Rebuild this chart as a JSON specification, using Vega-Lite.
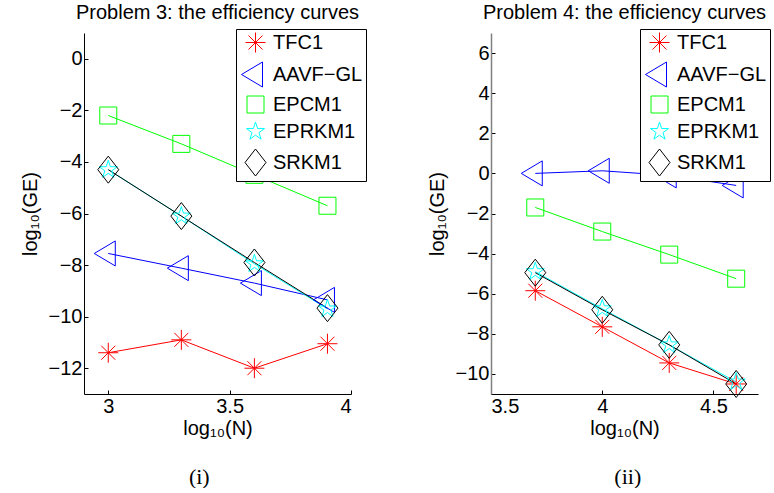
{
  "$schema": "https://vega.github.io/schema/vega-lite/v6.json",
  "background": "white",
  "padding": {"left": 20, "top": 3, "right": 0, "bottom": 0},
  "spacing": 60,
  "resolve": {"scale": {"stroke": "independent", "shape": "independent"}, "legend": {"stroke": "independent", "shape": "independent"}},
  "config": {
    "view": {"stroke": null},
    "font": "Liberation Sans",
    "title": {"font": "Liberation Sans", "fontSize": 20, "fontWeight": "normal", "color": "black", "anchor": "middle", "offset": 10},
    "axis": {
      "grid": false, "domainColor": "black", "domainWidth": 1, "tickColor": "black", "tickSize": -4, "tickWidth": 1,
      "labelFont": "Liberation Sans", "labelFontSize": 20, "labelColor": "black", "labelPadding": 6,
      "titleFont": "Liberation Sans", "titleFontSize": 20, "titleFontWeight": "normal", "titleColor": "black"
    },
    "axisX": {"titlePadding": 2},
    "axisY": {"titlePadding": 8},
    "legend": {
      "orient": "none", "title": null, "strokeColor": "black", "fillColor": "white", "cornerRadius": 0,
      "padding": 3, "symbolOffset": 6, "symbolSize": 400, "symbolStrokeWidth": 1, "labelOffset": 7,
      "labelFont": "Liberation Sans", "labelFontSize": 20, "labelColor": "black", "rowPadding": 5, "labelLimit": 200
    }
  },
  "datasets": {
    "p3": [
      {"method": "TFC1", "x": 3.0, "y": -11.4},
      {"method": "TFC1", "x": 3.301, "y": -10.9},
      {"method": "TFC1", "x": 3.602, "y": -12.0},
      {"method": "TFC1", "x": 3.903, "y": -11.05},
      {"method": "AAVF−GL", "x": 3.0, "y": -7.55},
      {"method": "AAVF−GL", "x": 3.301, "y": -8.12},
      {"method": "AAVF−GL", "x": 3.602, "y": -8.7},
      {"method": "AAVF−GL", "x": 3.903, "y": -9.35},
      {"method": "EPCM1", "x": 3.0, "y": -2.2},
      {"method": "EPCM1", "x": 3.301, "y": -3.3},
      {"method": "EPCM1", "x": 3.602, "y": -4.5},
      {"method": "EPCM1", "x": 3.903, "y": -5.7},
      {"method": "EPRKM1", "x": 3.0, "y": -4.3},
      {"method": "EPRKM1", "x": 3.301, "y": -6.1},
      {"method": "EPRKM1", "x": 3.602, "y": -7.95},
      {"method": "EPRKM1", "x": 3.903, "y": -9.7},
      {"method": "SRKM1", "x": 3.0, "y": -4.3},
      {"method": "SRKM1", "x": 3.301, "y": -6.1},
      {"method": "SRKM1", "x": 3.602, "y": -7.9},
      {"method": "SRKM1", "x": 3.903, "y": -9.67}
    ],
    "p4": [
      {"method": "TFC1", "x": 3.699, "y": -5.85},
      {"method": "TFC1", "x": 4.0, "y": -7.65},
      {"method": "TFC1", "x": 4.301, "y": -9.45},
      {"method": "TFC1", "x": 4.602, "y": -10.5},
      {"method": "AAVF−GL", "x": 3.699, "y": 0.0},
      {"method": "AAVF−GL", "x": 4.0, "y": 0.13},
      {"method": "AAVF−GL", "x": 4.301, "y": -0.1},
      {"method": "AAVF−GL", "x": 4.602, "y": -0.6},
      {"method": "EPCM1", "x": 3.699, "y": -1.7},
      {"method": "EPCM1", "x": 4.0, "y": -2.9},
      {"method": "EPCM1", "x": 4.301, "y": -4.05},
      {"method": "EPCM1", "x": 4.602, "y": -5.25},
      {"method": "EPRKM1", "x": 3.699, "y": -4.9},
      {"method": "EPRKM1", "x": 4.0, "y": -6.75},
      {"method": "EPRKM1", "x": 4.301, "y": -8.55},
      {"method": "EPRKM1", "x": 4.602, "y": -10.4},
      {"method": "SRKM1", "x": 3.699, "y": -4.95},
      {"method": "SRKM1", "x": 4.0, "y": -6.8},
      {"method": "SRKM1", "x": 4.301, "y": -8.55},
      {"method": "SRKM1", "x": 4.602, "y": -10.5}
    ]
  },
  "hconcat": [
    {
      "title": {"text": "(i)", "orient": "bottom", "font": "Liberation Serif", "fontSize": 22, "offset": 29, "dx": 6},
      "vconcat": [
        {
          "title": "Problem 3: the efficiency curves",
          "width": 267, "height": 361,
          "data": {"name": "p3"},
          "layer": [
            {
              "mark": {"type": "line", "strokeWidth": 1},
              "encoding": {
                "x": {"field": "x", "type": "quantitative", "scale": {"domain": [2.9, 4], "nice": false, "zero": false}, "axis": {"values": [3, 3.5, 4], "format": "~g", "title": "log₁₀(N)"}},
                "y": {"field": "y", "type": "quantitative", "scale": {"domain": [-13, 1], "nice": false, "zero": false}, "axis": {"values": [-12, -10, -8, -6, -4, -2, 0], "title": "log₁₀(GE)"}},
                "stroke": {"field": "method", "type": "nominal", "title": null, "sort": ["TFC1", "AAVF−GL", "EPCM1", "EPRKM1", "SRKM1"], "scale": {"domain": ["TFC1", "AAVF−GL", "EPCM1", "EPRKM1", "SRKM1"], "range": ["#ff0000", "#0000ff", "#00ff00", "#00ffff", "#000000"]}}
              }
            },
            {
              "mark": {"type": "point", "filled": false, "strokeWidth": 1, "size": 400, "opacity": 1},
              "encoding": {
                "x": {"field": "x", "type": "quantitative"},
                "y": {"field": "y", "type": "quantitative"},
                "stroke": {"field": "method", "type": "nominal", "title": null, "sort": ["TFC1", "AAVF−GL", "EPCM1", "EPRKM1", "SRKM1"],
                  "legend": {"legendX": 152, "legendY": -4, "encode": {"symbols": {
                    "shape": {"value": {"expr": "datum.value === 'TFC1' ? 'M-1.33,0L1.33,0M0,-1L0,1M-0.7,-0.7L0.7,0.7M-0.7,0.7L0.7,-0.7' : datum.value === 'EPCM1' ? 'M-1.33,0L1.33,0M-0.85,-0.85L0.85,-0.85L0.85,0.85L-0.85,0.85Z' : datum.value === 'EPRKM1' ? 'M-1.33,0L1.33,0M0,-0.95L0.213,-0.294L0.903,-0.294L0.345,0.112L0.559,0.769L0,0.363L-0.559,0.769L-0.345,0.112L-0.903,-0.294L-0.213,-0.294Z' : datum.value === 'SRKM1' ? 'M-1.33,0L1.33,0M0,-1.35L1.05,0L0,1.35L-1.05,0Z' : 'M-1.33,0L1.33,0M-1.4,0L0.7,-1.25L0.7,1.25Z'"}}
                  }}}},
                "shape": {"field": "method", "type": "nominal", "title": null, "sort": ["TFC1", "AAVF−GL", "EPCM1", "EPRKM1", "SRKM1"], "scale": {"domain": ["TFC1", "AAVF−GL", "EPCM1", "EPRKM1", "SRKM1"], "range": ["M-1,0L1,0M0,-1L0,1M-0.7,-0.7L0.7,0.7M-0.7,0.7L0.7,-0.7", "M-1.4,0L0.7,-1.25L0.7,1.25Z", "M-0.85,-0.85L0.85,-0.85L0.85,0.85L-0.85,0.85Z", "M0,-0.95L0.213,-0.294L0.903,-0.294L0.345,0.112L0.559,0.769L0,0.363L-0.559,0.769L-0.345,0.112L-0.903,-0.294L-0.213,-0.294Z", "M0,-1.35L1.05,0L0,1.35L-1.05,0Z"]},
                  "legend": {"legendX": 152, "legendY": -4, "encode": {"symbols": {
                    "shape": {"value": {"expr": "datum.value === 'TFC1' ? 'M-1.33,0L1.33,0M0,-1L0,1M-0.7,-0.7L0.7,0.7M-0.7,0.7L0.7,-0.7' : datum.value === 'EPCM1' ? 'M-1.33,0L1.33,0M-0.85,-0.85L0.85,-0.85L0.85,0.85L-0.85,0.85Z' : datum.value === 'EPRKM1' ? 'M-1.33,0L1.33,0M0,-0.95L0.213,-0.294L0.903,-0.294L0.345,0.112L0.559,0.769L0,0.363L-0.559,0.769L-0.345,0.112L-0.903,-0.294L-0.213,-0.294Z' : datum.value === 'SRKM1' ? 'M-1.33,0L1.33,0M0,-1.35L1.05,0L0,1.35L-1.05,0Z' : 'M-1.33,0L1.33,0M-1.4,0L0.7,-1.25L0.7,1.25Z'"}}
                  }}}}
              }
            }
          ]
        }
      ]
    },
    {
      "title": {"text": "(ii)", "orient": "bottom", "font": "Liberation Serif", "fontSize": 22, "offset": 29, "dx": 29},
      "vconcat": [
        {
          "title": "Problem 4: the efficiency curves",
          "width": 267, "height": 361,
          "data": {"name": "p4"},
          "layer": [
            {
              "mark": {"type": "line", "strokeWidth": 1},
              "encoding": {
                "x": {"field": "x", "type": "quantitative", "scale": {"domain": [3.5, 4.7], "nice": false, "zero": false}, "axis": {"values": [3.5, 4, 4.5], "format": "~g", "title": "log₁₀(N)"}},
                "y": {"field": "y", "type": "quantitative", "scale": {"domain": [-11, 7], "nice": false, "zero": false}, "axis": {"values": [-10, -8, -6, -4, -2, 0, 2, 4, 6], "title": "log₁₀(GE)", "domainColor": "#808080", "domainWidth": 1.5}},
                "stroke": {"field": "method", "type": "nominal", "title": null, "sort": ["TFC1", "AAVF−GL", "EPCM1", "EPRKM1", "SRKM1"], "scale": {"domain": ["TFC1", "AAVF−GL", "EPCM1", "EPRKM1", "SRKM1"], "range": ["#ff0000", "#0000ff", "#00ff00", "#00ffff", "#000000"]}}
              }
            },
            {
              "mark": {"type": "point", "filled": false, "strokeWidth": 1, "size": 400, "opacity": 1},
              "encoding": {
                "x": {"field": "x", "type": "quantitative"},
                "y": {"field": "y", "type": "quantitative"},
                "stroke": {"field": "method", "type": "nominal", "title": null, "sort": ["TFC1", "AAVF−GL", "EPCM1", "EPRKM1", "SRKM1"],
                  "legend": {"legendX": 149, "legendY": -4, "encode": {"symbols": {
                    "shape": {"value": {"expr": "datum.value === 'TFC1' ? 'M-1.33,0L1.33,0M0,-1L0,1M-0.7,-0.7L0.7,0.7M-0.7,0.7L0.7,-0.7' : datum.value === 'EPCM1' ? 'M-1.33,0L1.33,0M-0.85,-0.85L0.85,-0.85L0.85,0.85L-0.85,0.85Z' : datum.value === 'EPRKM1' ? 'M-1.33,0L1.33,0M0,-0.95L0.213,-0.294L0.903,-0.294L0.345,0.112L0.559,0.769L0,0.363L-0.559,0.769L-0.345,0.112L-0.903,-0.294L-0.213,-0.294Z' : datum.value === 'SRKM1' ? 'M-1.33,0L1.33,0M0,-1.35L1.05,0L0,1.35L-1.05,0Z' : 'M-1.33,0L1.33,0M-1.4,0L0.7,-1.25L0.7,1.25Z'"}}
                  }}}},
                "shape": {"field": "method", "type": "nominal", "title": null, "sort": ["TFC1", "AAVF−GL", "EPCM1", "EPRKM1", "SRKM1"], "scale": {"domain": ["TFC1", "AAVF−GL", "EPCM1", "EPRKM1", "SRKM1"], "range": ["M-1,0L1,0M0,-1L0,1M-0.7,-0.7L0.7,0.7M-0.7,0.7L0.7,-0.7", "M-1.4,0L0.7,-1.25L0.7,1.25Z", "M-0.85,-0.85L0.85,-0.85L0.85,0.85L-0.85,0.85Z", "M0,-0.95L0.213,-0.294L0.903,-0.294L0.345,0.112L0.559,0.769L0,0.363L-0.559,0.769L-0.345,0.112L-0.903,-0.294L-0.213,-0.294Z", "M0,-1.35L1.05,0L0,1.35L-1.05,0Z"]},
                  "legend": {"legendX": 149, "legendY": -4, "encode": {"symbols": {
                    "shape": {"value": {"expr": "datum.value === 'TFC1' ? 'M-1.33,0L1.33,0M0,-1L0,1M-0.7,-0.7L0.7,0.7M-0.7,0.7L0.7,-0.7' : datum.value === 'EPCM1' ? 'M-1.33,0L1.33,0M-0.85,-0.85L0.85,-0.85L0.85,0.85L-0.85,0.85Z' : datum.value === 'EPRKM1' ? 'M-1.33,0L1.33,0M0,-0.95L0.213,-0.294L0.903,-0.294L0.345,0.112L0.559,0.769L0,0.363L-0.559,0.769L-0.345,0.112L-0.903,-0.294L-0.213,-0.294Z' : datum.value === 'SRKM1' ? 'M-1.33,0L1.33,0M0,-1.35L1.05,0L0,1.35L-1.05,0Z' : 'M-1.33,0L1.33,0M-1.4,0L0.7,-1.25L0.7,1.25Z'"}}
                  }}}}
              }
            }
          ]
        }
      ]
    }
  ]
}
